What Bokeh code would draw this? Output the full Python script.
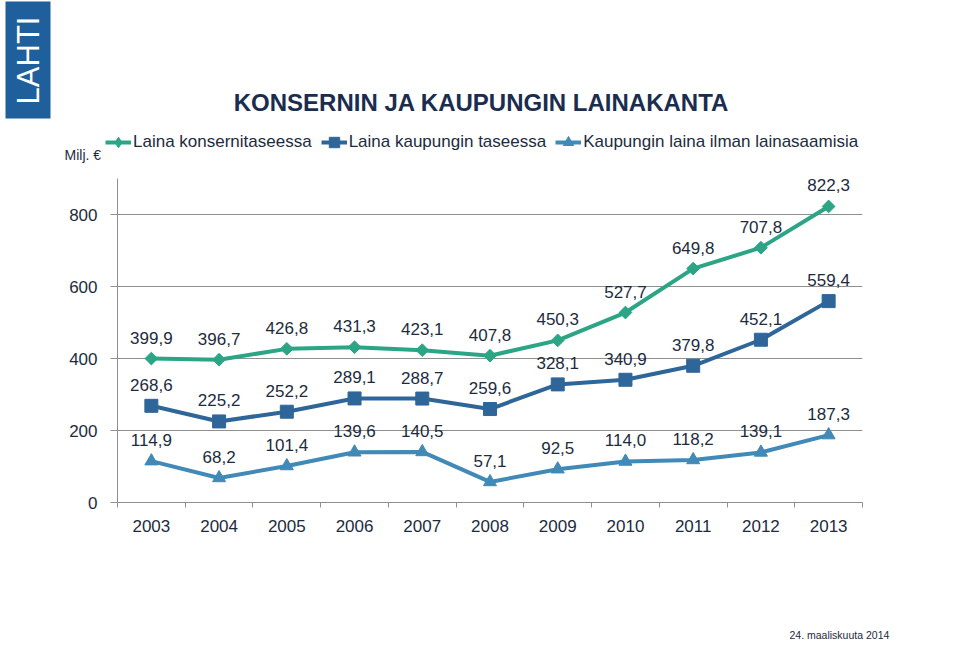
import math
from bokeh.plotting import figure
from bokeh.layouts import column
from bokeh.models import (ColumnDataSource, FixedTicker, LabelSet, Legend,
                          LegendItem, Range1d)
from bokeh.core.properties import value
from bokeh.embed import file_html
from bokeh.resources import INLINE

# ---- data ----
years = ["2003", "2004", "2005", "2006", "2007", "2008", "2009", "2010", "2011", "2012", "2013"]
konserni = [399.9, 396.7, 426.8, 431.3, 423.1, 407.8, 450.3, 527.7, 649.8, 707.8, 822.3]
kaupunki = [268.6, 225.2, 252.2, 289.1, 288.7, 259.6, 328.1, 340.9, 379.8, 452.1, 559.4]
ilman = [114.9, 68.2, 101.4, 139.6, 140.5, 57.1, 92.5, 114.0, 118.2, 139.1, 187.3]
series_names = ["Laina konsernitaseessa", "Laina kaupungin taseessa",
                "Kaupungin laina ilman lainasaamisia"]
y_ticks = [0, 200, 400, 600, 800]
title_text = "KONSERNIN JA KAUPUNGIN LAINAKANTA"
unit_text = "Milj. €"
date_text = "24. maaliskuuta 2014"

FONT = "Liberation Sans"
TXT = "#1d2b40"
GREEN = "#2ba585"
DBLUE = "#2f6699"
LBLUE = "#4189b7"
GRID = "#8f8f8f"
W = 955

styles = [(GREEN, "square", 9, math.pi / 4), (DBLUE, "square", 13, 0.0),
          (LBLUE, "triangle", 13, 0.0)]
legend_markers = ["diamond", "square", "triangle"]

def blank_fig(h):
    f = figure(width=W, height=h, x_range=Range1d(0, W), y_range=Range1d(h, 0),
               x_axis_type=None, y_axis_type=None, output_backend="svg",
               toolbar_location=None, min_border=0)
    f.frame_align = False
    f.outline_line_color = None
    f.grid.visible = False
    f.background_fill_color = "white"
    f.border_fill_color = "white"
    return f

# ---- header: logo, title, legend, unit ----
HH = 170
head = blank_fig(HH)
head.quad(left=[5], right=[50], top=[1], bottom=[118], fill_color="#1f5f9b", line_color=None)
head.text(x=[28], y=[60], text=["LAHTI"], angle=math.pi / 2, text_align="center",
          text_baseline="middle", text_font=value(FONT), text_font_size="31px",
          text_color="white")
head.text(x=[481], y=[102], text=[title_text], text_align="center", text_baseline="middle",
          text_font=value(FONT), text_font_style="bold", text_font_size="24px",
          text_color="#1b2d4f")
head.text(x=[64], y=[154], text=[unit_text], text_align="left", text_baseline="middle",
          text_font=value(FONT), text_font_size="14px", text_color=TXT)

items = []
for (col, marker, size, ang), lm, name in zip(styles, legend_markers, series_names):
    # off-canvas proxy point: only used to give the legend its glyph style
    proxy = ColumnDataSource(dict(x=[-1000], y=[-1000]))
    lr = head.line("x", "y", source=proxy, line_width=4, line_color=col)
    sr = head.scatter("x", "y", source=proxy, marker=lm, size=size,
                      fill_color=col, line_color=col)
    items.append(LegendItem(label=name, renderers=[lr, sr]))
legend = Legend(items=items, orientation="horizontal", location=(105, HH - 155),
                glyph_width=26, glyph_height=26, label_standoff=2, spacing=9,
                padding=0, margin=0, border_line_color=None, background_fill_alpha=0,
                label_text_font=FONT, label_text_font_size="17px",
                label_text_color=TXT, label_height=18)
head.add_layout(legend)

# ---- main chart ----
n = len(years)
xs = [i + 0.5 for i in range(n)]
p = figure(width=W, height=545 - HH, x_range=Range1d(0, n), y_range=Range1d(0, 900),
           output_backend="svg", toolbar_location=None,
           min_border_left=117, min_border_right=W - 862, min_border_top=178 - HH,
           min_border_bottom=43)
p.frame_align = False
p.outline_line_color = None
p.background_fill_color = "white"
p.border_fill_color = "white"

p.xgrid.visible = False
p.ygrid.ticker = FixedTicker(ticks=[t for t in y_ticks if t > 0])
p.ygrid.grid_line_color = GRID
p.ygrid.grid_line_width = 1

p.yaxis.ticker = FixedTicker(ticks=y_ticks)
p.yaxis.axis_line_color = GRID
p.yaxis.major_tick_line_color = GRID
p.yaxis.major_tick_in = 0
p.yaxis.major_tick_out = 7
p.yaxis.minor_tick_line_color = None
p.yaxis.major_label_standoff = 13
p.yaxis.major_label_text_font = FONT
p.yaxis.major_label_text_font_size = "17px"
p.yaxis.major_label_text_color = TXT

p.xaxis.ticker = FixedTicker(ticks=xs, minor_ticks=list(range(n + 1)))
p.xaxis.major_label_overrides = {x: y for x, y in zip(xs, years)}
p.xaxis.axis_line_color = GRID
p.xaxis.major_tick_line_color = None
p.xaxis.major_tick_out = 0
p.xaxis.major_tick_in = 0
p.xaxis.minor_tick_line_color = GRID
p.xaxis.minor_tick_in = 0
p.xaxis.minor_tick_out = 5
p.xaxis.major_label_standoff = 12
p.xaxis.major_label_text_font = FONT
p.xaxis.major_label_text_font_size = "17px"
p.xaxis.major_label_text_color = TXT

def fmt(v):
    return f"{v:.1f}".replace(".", ",")

for vals, (col, marker, size, ang) in zip([konserni, kaupunki, ilman], styles):
    src = ColumnDataSource(dict(x=xs, y=vals, lab=[fmt(v) for v in vals]))
    p.line("x", "y", source=src, line_width=4, line_color=col)
    p.scatter("x", "y", source=src, marker=marker, size=size, angle=ang,
              fill_color=col, line_color=col)
    p.add_layout(LabelSet(x="x", y="y", text="lab", source=src, y_offset=21,
                          text_align="center", text_baseline="middle",
                          text_font=value(FONT), text_font_size=value("17px"),
                          text_color=value(TXT)))

# ---- footer: date ----
FH = 110
foot = blank_fig(FH)
foot.text(x=[789], y=[634 - 545], text=[date_text], text_align="left", text_baseline="middle",
          text_font=value(FONT), text_font_size="10.5px", text_color=TXT)

page = column(head, p, foot, spacing=0)
open("out.html", "w").write(file_html(page, INLINE))
